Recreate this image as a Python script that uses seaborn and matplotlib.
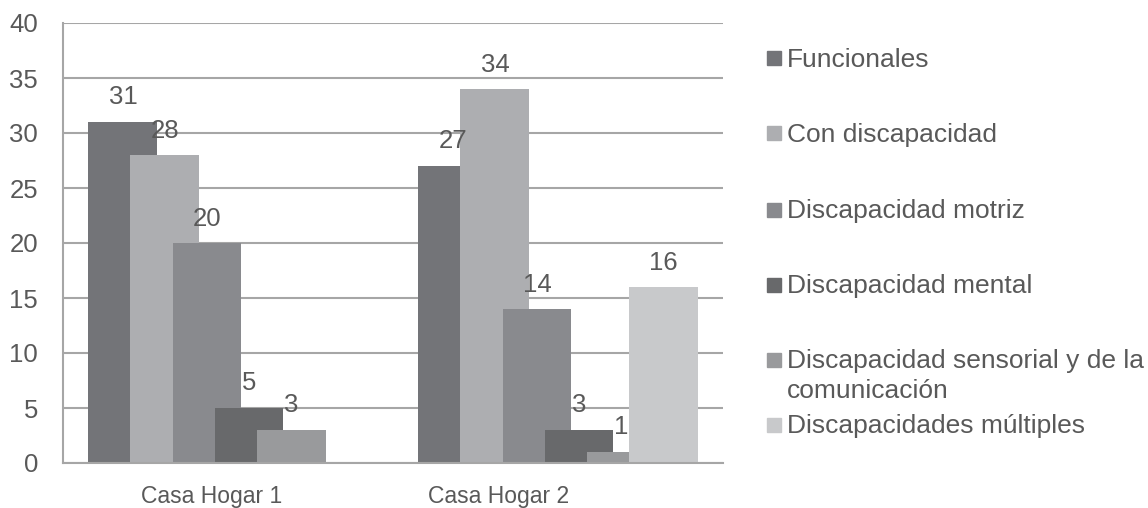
import matplotlib
matplotlib.use("Agg")
import matplotlib.pyplot as plt
from matplotlib.patches import Rectangle
import pandas as pd
import seaborn as sns

casas = ["Casa Hogar 1", "Casa Hogar 2"]
grupos = ["Funcionales", "Con discapacidad", "Discapacidad motriz",
          "Discapacidad mental", "Discapacidad sensorial y de la comunicación",
          "Discapacidades múltiples"]
hogar1 = [31, 28, 20, 5, 3, None]
hogar2 = [27, 34, 14, 3, 1, 16]
colores = ["#737478", "#adaeb1", "#898a8e", "#68696b", "#999a9c", "#c8c9cb"]

rows = []
for casa, vals in zip(casas, [hogar1, hogar2]):
    for g, v in zip(grupos, vals):
        if v is not None:
            rows.append({"casa": casa, "grupo": g, "valor": v})
df = pd.DataFrame(rows)

sns.set_style("white")
plt.rcParams["font.family"] = ["Liberation Sans", "DejaVu Sans"]
gris = "#595959"
linea = "#a6a6a6"
W, H = 1148, 508
fs = 18.5

fig = plt.figure(figsize=(W / 100, H / 100), dpi=100)
ax = fig.add_axes([63 / W, 45 / H, 660 / W, 440 / H])

sns.barplot(data=df, x="casa", y="valor", hue="grupo", order=casas,
            hue_order=grupos, palette=colores, width=0.764, saturation=1,
            linewidth=0, errorbar=None, legend=False, ax=ax)

# Excel-style overlapping bars: widen each bar around its center
for cont in ax.containers:
    for bar in cont:
        cx = bar.get_x() + bar.get_width() / 2
        bar.set_width(0.209)
        bar.set_x(cx - 0.1045)
    ax.bar_label(cont, padding=9, fontsize=fs, color=gris)

ax.set_xlim(-0.5, 1.5)
ax.set_ylim(0, 40)
ax.set_yticks(range(0, 41, 5))
ax.set_xticks([-0.05, 0.82], casas)
ax.set_xlabel("")
ax.set_ylabel("")
ax.yaxis.grid(True, color=linea, lw=1.5)
ax.set_axisbelow(True)
for s in ["top", "right"]:
    ax.spines[s].set_visible(False)
for s in ["left", "bottom"]:
    ax.spines[s].set_color(linea)
    ax.spines[s].set_linewidth(1.5)
ax.tick_params(axis="y", length=0, labelsize=fs, labelcolor=gris, pad=18)
ax.tick_params(axis="x", length=0, labelsize=16.5, labelcolor=gris, pad=16)

# legend drawn entry by entry, as in the original
etiquetas = [["Funcionales"], ["Con discapacidad"], ["Discapacidad motriz"],
             ["Discapacidad mental"], ["Discapacidad sensorial y de la", "comunicación"],
             ["Discapacidades múltiples"]]
bases = [66.7, 141.7, 218, 293, 368, 433]
for lineas, b, c in zip(etiquetas, bases, colores):
    fig.patches.append(Rectangle((767 / W, 1 - (b - 1.5) / H), 14 / W, 14 / H,
                                 transform=fig.transFigure, color=c))
    for k, t in enumerate(lineas):
        fig.text(787 / W, 1 - (b + 30 * k) / H, t, va="baseline", ha="left",
                 fontsize=19, color=gris)

fig.savefig("out.png", dpi=100)
